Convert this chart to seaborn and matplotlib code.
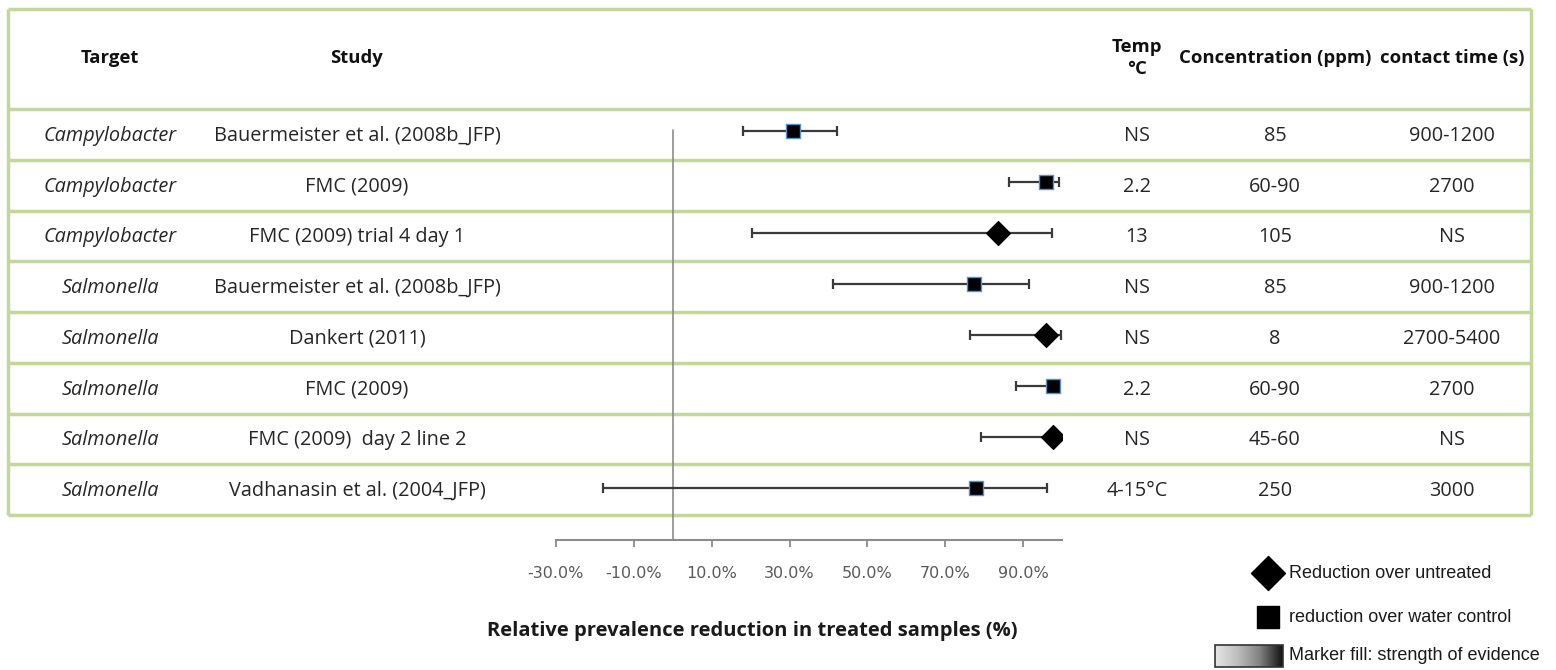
import numpy as np
import pandas as pd
import seaborn as sns
import matplotlib.pyplot as plt
from matplotlib.patches import Rectangle
from matplotlib.colors import LinearSegmentedColormap

# table / forest plot data, one entry per row (top to bottom)
targets = ['Campylobacter', 'Campylobacter', 'Campylobacter', 'Salmonella',
           'Salmonella', 'Salmonella', 'Salmonella', 'Salmonella']
studies = ['Bauermeister et al. (2008b_JFP)', 'FMC (2009)', 'FMC (2009) trial 4 day 1',
           'Bauermeister et al. (2008b_JFP)', 'Dankert (2011)', 'FMC (2009)',
           'FMC (2009)  day 2 line 2', 'Vadhanasin et al. (2004_JFP)']
temps = ['NS', '2.2', '13', 'NS', 'NS', '2.2', 'NS', '4-15°C']
concs = ['85', '60-90', '105', '85', '8', '60-90', '45-60', '250']
contact = ['900-1200', '2700', 'NS', '900-1200', '2700-5400', '2700', 'NS', '3000']
comparison = ['water', 'water', 'untreated', 'water', 'untreated', 'water', 'untreated', 'water']
estimate = [31.0, 95.9, 83.4, 77.4, 95.7, 97.7, 97.7, 77.9]
lower = [18.1, 86.3, 20.5, 41.2, 76.3, 88.1, 79.1, -17.8]
upper = [42.1, 99.2, 97.3, 91.5, 99.6, 98.5, 98.5, 96.1]
ticks = [-30, -10, 10, 30, 50, 70, 90]

df = pd.DataFrame({'row': range(len(studies)), 'estimate': estimate,
                   'lower': lower, 'upper': upper, 'comparison': comparison})

sns.set_theme(style='white')
plt.rcParams['font.family'] = ['Open Sans', 'DejaVu Sans']

W, H = 1556, 670
fig = plt.figure(figsize=(W / 100, H / 100), dpi=100)

# overlay in pixel coordinates for the table
tab = fig.add_axes([0, 0, 1, 1])
tab.set_xlim(0, W)
tab.set_ylim(H, 0)
tab.axis('off')

green = '#c3d69b'
left, right, top = 8, 1531, 9
row_top, row_h = 109, 50.75
n = len(studies)
bottom = row_top + n * row_h
for y in [top, row_top] + [row_top + row_h * (i + 1) for i in range(n)]:
    tab.plot([left, right], [y, y], color=green, lw=2.5, solid_capstyle='butt')
for x in [left, right]:
    tab.plot([x, x], [top, bottom], color=green, lw=2.5, solid_capstyle='butt')

cols = {'target': 110, 'study': 357, 'temp': 1137, 'conc': 1275, 'contact': 1452}
hy = 58
hkw = dict(ha='center', va='center', fontsize=13.3, fontweight='bold', color='#111111')
tab.text(cols['target'], hy, 'Target', **hkw)
tab.text(cols['study'], hy, 'Study', **hkw)
tab.text(cols['temp'], hy, 'Temp\n°C', linespacing=1.3, **hkw)
tab.text(cols['conc'], hy, 'Concentration (ppm)', **hkw)
tab.text(cols['contact'], hy, 'contact time (s)', **hkw)

bkw = dict(ha='center', va='center', fontsize=14.3, color='#262626')
for i in range(n):
    y = row_top + row_h * (i + 0.5) + 1.5
    tab.text(cols['target'], y, targets[i], style='italic', **bkw)
    tab.text(cols['study'], y, studies[i], **bkw)
    tab.text(cols['temp'], y, temps[i], **bkw)
    tab.text(cols['conc'], y, concs[i], **bkw)
    tab.text(cols['contact'], y, contact[i], **bkw)

# forest plot axes: -30 .. 100 %
x0, x1 = 555.7, 1062.3
ax_top, ax_bot = 109, 540
ax = fig.add_axes([x0 / W, 1 - ax_bot / H, (x1 - x0) / W, (ax_bot - ax_top) / H])
ax.set_facecolor('none')

ax.errorbar(df['estimate'], df['row'],
            xerr=[df['estimate'] - df['lower'], df['upper'] - df['estimate']],
            fmt='none', ecolor='#3a3a3a', elinewidth=1.6, capsize=3.8, capthick=1.6, zorder=2)
sns.scatterplot(data=df[df['comparison'] == 'water'], x='estimate', y='row', marker='s',
                s=105, color='black', edgecolor='#5b8fd0', linewidth=1.0, ax=ax,
                legend=False, zorder=3)
sns.scatterplot(data=df[df['comparison'] == 'untreated'], x='estimate', y='row', marker='D',
                s=150, color='black', edgecolor='black', linewidth=0.8, ax=ax,
                legend=False, zorder=3)

ylo, yhi = -0.431, n + 0.02
ax.set_xlim(-30, 100)
ax.set_ylim(yhi, ylo)
ax.axvline(0, ymin=0, ymax=(yhi + 0.02) / (yhi - ylo), color='#8c8c8c', lw=1.2, zorder=1)

ax.set_xticks(ticks)
ax.set_xticklabels([f'{t:.1f}%' for t in ticks], family=['DejaVu Sans'])
ax.set_yticks([])
ax.set_xlabel('')
ax.set_ylabel('')
ax.tick_params(axis='x', direction='out', length=5, width=1.3, color='#8c8c8c',
               labelcolor='#595959', labelsize=11.5, pad=14, bottom=True)
for s in ['top', 'left', 'right']:
    ax.spines[s].set_visible(False)
ax.spines['bottom'].set_color('#8c8c8c')
ax.spines['bottom'].set_linewidth(1.5)

tab.text(752, 631, 'Relative prevalence reduction in treated samples (%)', ha='center',
         va='center', fontsize=14.5, fontweight='bold', color='#1a1a1a')

# legend
lkw = dict(ha='left', va='center', fontsize=13, color='#1a1a1a', family=['Liberation Sans'])
tab.scatter([1268], [573], marker='D', s=300, color='black')
tab.text(1289, 573, 'Reduction over untreated', **lkw)
tab.scatter([1268], [617], marker='s', s=270, color='black')
tab.text(1289, 617, 'reduction over water control', **lkw)
grad = LinearSegmentedColormap.from_list('ev', ['#e6e6e6', '#bdbdbd', '#808080', '#111111'])
tab.imshow(np.linspace(0, 1, 200)[None, :], cmap=grad, extent=(1215, 1283, 667, 645),
           aspect='auto', zorder=2)
tab.add_patch(Rectangle((1215, 645), 68, 22, fill=False, edgecolor='#333333', lw=1.2, zorder=3))
tab.text(1289, 656, 'Marker fill: strength of evidence', **lkw)
tab.set_xlim(0, W)
tab.set_ylim(H, 0)

fig.savefig('out.png', dpi=100)
